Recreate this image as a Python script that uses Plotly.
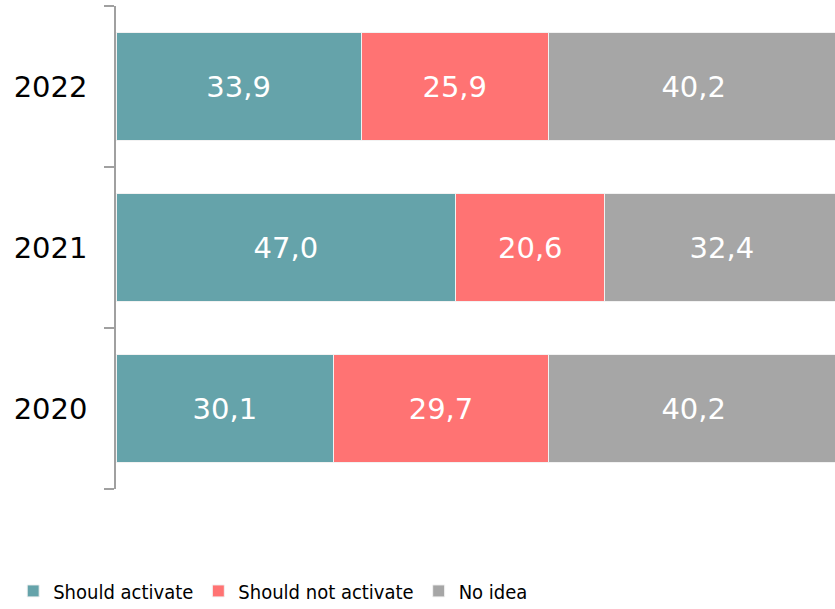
import plotly.graph_objects as go

years = ['2020', '2021', '2022']
should_activate = [30.1, 47.0, 33.9]
should_not_activate = [29.7, 20.6, 25.9]
no_idea = [40.2, 32.4, 40.2]

series = [
    ('Should activate', should_activate, '#65A3AA'),
    ('Should not activate', should_not_activate, '#FF7373'),
    ('No idea', no_idea, '#A6A6A6'),
]

fig = go.Figure()
for name, vals, color in series:
    fig.add_trace(go.Bar(
        y=years, x=vals, name=name, orientation='h',
        marker=dict(color=color, line=dict(color='#f2f2f2', width=1)),
        texttemplate='%{x:.1f}', textposition='inside', insidetextanchor='middle',
        textfont=dict(color='white', size=29, family='DejaVu Sans'),
    ))

fig.update_layout(
    barmode='stack',
    bargap=0.33,
    separators=',.',
    width=835, height=609,
    margin=dict(l=116, r=0, t=6, b=120, autoexpand=False),
    plot_bgcolor='white', paper_bgcolor='white',
    font=dict(family='DejaVu Sans', color='black'),
    showlegend=True,
    legend=dict(
        orientation='h', x=-0.143, xanchor='left', y=-0.211, yanchor='middle',
        font=dict(family='DejaVu Sans Condensed, DejaVu Sans', size=20),
        traceorder='normal', itemwidth=30,
    ),
    # the original runs a few px past the right edge, so 100 is slightly clipped
    xaxis=dict(range=[0, 99.45], visible=False, fixedrange=True),
    yaxis=dict(
        type='category', range=[-0.5, 2.5],
        showline=True, linecolor='#A0A0A0', linewidth=1.5,
        ticks='outside', tickson='boundaries', ticklen=10, tickcolor='#A0A0A0', tickwidth=1.5,
        tickfont=dict(size=29, family='DejaVu Sans', color='black'),
        ticklabelstandoff=21,
        showgrid=False, zeroline=False,
    ),
)

# page body has a default 8px margin; drop it so the figure sits at 0,0
fig.write_html('out.html', config={'displayModeBar': False},
               post_script="document.body.style.margin='0';")
